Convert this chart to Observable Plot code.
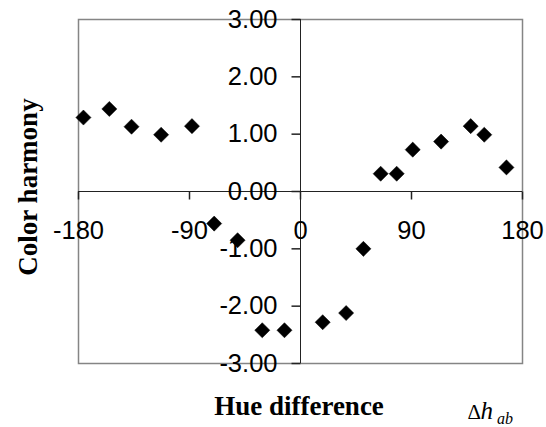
<!DOCTYPE html>
<html>
<head>
<meta charset="utf-8">
<script src="https://cdn.jsdelivr.net/npm/d3@7"></script>
<script src="https://cdn.jsdelivr.net/npm/@observablehq/plot@0.6"></script>
<style>
  html, body { margin: 0; padding: 0; background: #fff; }
</style>
</head>
<body>
<div id="chart"></div>
<script>
// Hue difference (degrees) and the mean colour-harmony score for each pair
const hueDiff = [-176, -155, -137, -113, -88, -70, -51, -31, -13, 18, 37, 51, 65, 78, 91, 114, 138, 149, 167];
const harmony = [1.29, 1.44, 1.13, 0.99, 1.14, -0.56, -0.85, -2.42, -2.42, -2.28, -2.12, -1.00, 0.31, 0.31, 0.73, 0.87, 1.14, 0.99, 0.42];

// Axis ticks
const xTicks = [-180, -90, 0, 90, 180];
const yTicks = [-3, -2, -1, 0, 1, 2, 3];

const points = hueDiff.map((h, i) => ({h, v: harmony[i]}));

// Short tick strokes drawn as custom symbols so they sit on the crossing axes
const tickDown = {draw(ctx) { ctx.moveTo(0, 0); ctx.lineTo(0, 8); }};
const tickLeft = {draw(ctx) { ctx.moveTo(0, 0); ctx.lineTo(-9, 0); }};

const sans = "'Liberation Sans', Arial, sans-serif";
const serif = "'Liberation Serif', 'Times New Roman', serif";

const chart = Plot.plot({
  width: 546,
  height: 427,
  marginLeft: 78,
  marginRight: 24,
  marginTop: 19,
  marginBottom: 64,
  style: {background: "#fff", fontFamily: sans, color: "#000"},
  x: {domain: [-180, 180], axis: null},
  y: {domain: [-3, 3], axis: null},
  marks: [
    Plot.frame({stroke: "#858585", strokeWidth: 1.5}),
    Plot.ruleY([0], {stroke: "#222", strokeWidth: 1}),
    Plot.ruleX([0], {stroke: "#222", strokeWidth: 1}),
    Plot.dot(xTicks, {x: d => d, y: () => 0, symbol: tickDown, stroke: "#222", fill: "none"}),
    Plot.dot(yTicks, {x: () => 0, y: d => d, symbol: tickLeft, stroke: "#222", fill: "none"}),
    Plot.text(xTicks, {x: d => d, y: () => 0, text: d => String(d), dy: 39,
      fontSize: 25.5, fill: "#000", textAnchor: "middle"}),
    Plot.text(yTicks, {x: () => 0, y: d => d, text: d => d.toFixed(2), dx: -23,
      fontSize: 25.5, fill: "#000", textAnchor: "end"}),
    Plot.dot(points, {x: "h", y: "v", symbol: "diamond2", r: 6.8, fill: "#000", stroke: "#000", strokeWidth: 0.5}),
    // Axis titles
    Plot.text(["Hue difference"], {frameAnchor: "bottom", text: d => d, dx: -1.5, dy: 51,
      textAnchor: "middle", lineAnchor: "bottom", fontFamily: serif, fontWeight: "bold", fontSize: 27,
      fill: "#000", letterSpacing: 0.3}),
    Plot.text(["Color harmony"], {frameAnchor: "left", text: d => d, rotate: -90, dx: -42, dy: -4.5,
      textAnchor: "middle", lineAnchor: "bottom", fontFamily: serif, fontWeight: "bold", fontSize: 27,
      fill: "#000", letterSpacing: 1}),
    Plot.text(["\u0394"], {frameAnchor: "bottom-right", text: d => d, dx: -55, dy: 55,
      textAnchor: "start", lineAnchor: "bottom", fontFamily: serif, fontSize: 21, fill: "#000"}),
    Plot.text(["h"], {frameAnchor: "bottom-right", text: d => d, dx: -42, dy: 55,
      textAnchor: "start", lineAnchor: "bottom", fontFamily: serif, fontStyle: "italic", fontSize: 25, fill: "#000"}),
    Plot.text(["ab"], {frameAnchor: "bottom-right", text: d => d, dx: -25.5, dy: 60,
      textAnchor: "start", lineAnchor: "bottom", fontFamily: serif, fontStyle: "italic", fontSize: 16, fill: "#000"})
  ]
});

document.getElementById("chart").appendChild(chart);
</script>
</body>
</html>
